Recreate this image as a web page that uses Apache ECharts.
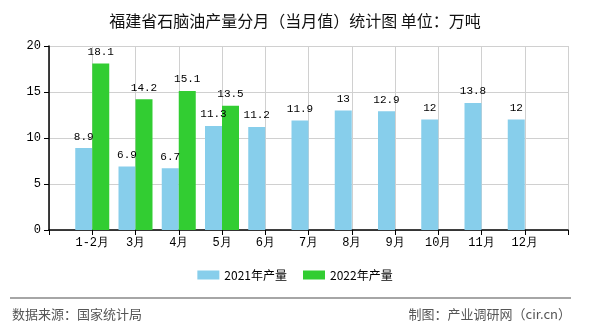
<!DOCTYPE html>
<html>
<head>
<meta charset="utf-8">
<script src="https://cdn.jsdelivr.net/npm/echarts@6/dist/echarts.min.js"></script>
<style>
html,body{margin:0;padding:0;background:#fff;}
#c{width:590px;height:330px;}
</style>
</head>
<body>
<div id="c"></div>
<script>
var titleText = '福建省石脑油产量分月（当月值）统计图 单位：万吨';
var categories = ['1-2月','3月','4月','5月','6月','7月','8月','9月','10月','11月','12月'];
var seriesNames = ['2021年产量','2022年产量'];
var values2021 = [8.9, 6.9, 6.7, 11.3, 11.2, 11.9, 13, 12.9, 12, 13.8, 12];
var values2022 = [18.1, 14.2, 15.1, 13.5];
var yTicks = [0, 5, 10, 15, 20];
var sourceText = '数据来源：国家统计局';
var creditText = '制图：产业调研网（cir.cn）';

var axisCats = [''].concat(categories, ['']);
function pad(arr){
  var out = [null];
  for (var i = 0; i < categories.length; i++) out.push(i < arr.length ? arr[i] : null);
  out.push(null);
  return out;
}
var monoFont = "'Liberation Mono', 'DejaVu Sans Mono', monospace";
var chart = echarts.init(document.getElementById('c'), null, {renderer:'canvas'});
chart.setOption({
  animation: false,
  backgroundColor: '#fff',
  title: {
    text: titleText, left: 'center', top: 8,
    textStyle: {fontSize: 16, fontWeight: 'normal', color: '#111', fontFamily: "'Noto Sans CJK SC', sans-serif"}
  },
  legend: {
    bottom: 44, left: 'center',
    itemWidth: 22, itemHeight: 9, itemGap: 16,
    icon: 'rect',
    textStyle: {fontSize: 12, color: '#000', fontFamily: "'Noto Sans CJK SC', sans-serif"},
    data: seriesNames
  },
  grid: {left: 49, right: 22, top: 46, bottom: 100, containLabel: false},
  xAxis: {
    type: 'category', data: axisCats, boundaryGap: false,
    axisLine: {lineStyle: {color: '#000', width: 1.5}},
    axisTick: {show: true, length: 5, interval: 0, lineStyle: {color: '#000'}},
    axisLabel: {interval: 0, color: '#000', fontSize: 12, margin: 7, fontFamily: monoFont},
    splitLine: {show: true, interval: 0, lineStyle: {color: '#d0d0d0'}}
  },
  yAxis: {
    type: 'value', min: yTicks[0], max: yTicks[yTicks.length-1], interval: 5,
    axisLine: {show: true, lineStyle: {color: '#000', width: 1.5}},
    axisTick: {show: true, length: 5, lineStyle: {color: '#000'}},
    axisLabel: {color: '#000', fontSize: 12, margin: 8, fontFamily: monoFont},
    splitLine: {show: true, lineStyle: {color: '#d0d0d0'}}
  },
  series: [
    {
      name: seriesNames[0], type: 'bar', data: pad(values2021),
      barWidth: 17, barGap: '0%',
      itemStyle: {color: '#87CEEB'},
      label: {show: true, position: 'top', color: '#000', fontSize: 11, fontFamily: monoFont, distance: 6}
    },
    {
      name: seriesNames[1], type: 'bar', data: pad(values2022),
      barWidth: 17, barGap: '0%',
      itemStyle: {color: '#32CD32'},
      label: {show: true, position: 'top', color: '#000', fontSize: 11, fontFamily: monoFont, distance: 6}
    }
  ],
  graphic: [
    {type: 'line', shape: {x1: 10, y1: 298, x2: 571, y2: 298}, style: {stroke: '#888', lineWidth: 1.5}},
    {type: 'text', left: 12, top: 308, style: {text: sourceText, fill: '#555', font: "13px 'Noto Sans CJK SC', sans-serif"}},
    {type: 'text', right: 19, top: 308, style: {text: creditText, fill: '#555', font: "13px 'Noto Sans CJK SC', sans-serif"}}
  ]
});
</script>
</body>
</html>
